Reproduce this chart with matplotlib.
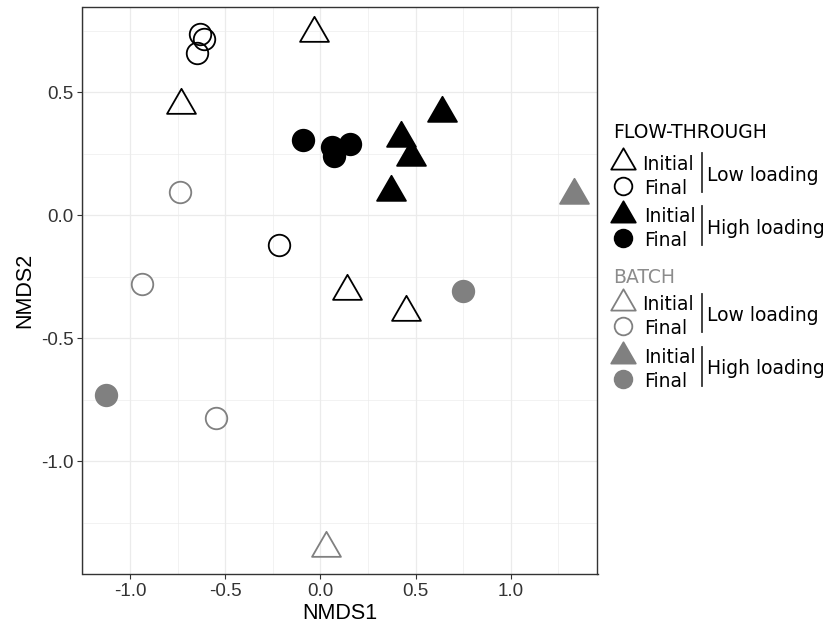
import numpy as np
import matplotlib
matplotlib.use("Agg")
import matplotlib.pyplot as plt
from matplotlib.path import Path
from matplotlib.lines import Line2D

# NMDS ordination scores per treatment group
ft_low_initial_x = [-0.036, -0.730, 0.142, 0.449]
ft_low_initial_y = [0.740, 0.449, -0.310, -0.395]
ft_low_final_x = [-0.632, -0.611, -0.651, -0.220]
ft_low_final_y = [0.736, 0.714, 0.660, -0.122]
ft_high_initial_x = [0.638, 0.422, 0.475, 0.370]
ft_high_initial_y = [0.415, 0.312, 0.235, 0.093]
ft_high_final_x = [-0.091, 0.063, 0.072, 0.154]
ft_high_final_y = [0.305, 0.275, 0.240, 0.289]
batch_low_initial_x = [0.032]
batch_low_initial_y = [-1.353]
batch_low_final_x = [-0.738, -0.938, -0.549]
batch_low_final_y = [0.095, -0.280, -0.824]
batch_high_initial_x = [1.333]
batch_high_initial_y = [0.080]
batch_high_final_x = [-1.127, 0.748]
batch_high_final_y = [-0.729, -0.309]

x_ticks = [-1.0, -0.5, 0.0, 0.5, 1.0]
y_ticks = [-1.0, -0.5, 0.0, 0.5]

BLACK = "#000000"
GREY = "#808080"
GREY_TEXT = "#8c8c8c"
W, H = 829, 629

# triangle centred on its centroid (like R's pch triangles)
TRI = Path([(0, 1), (-np.sqrt(3) / 2, -0.5), (np.sqrt(3) / 2, -0.5), (0, 0)],
           [Path.MOVETO, Path.LINETO, Path.LINETO, Path.CLOSEPOLY])

TRI_MS, CIRC_MS, EDGE_LW = 24, 15.5, 1.3

fig = plt.figure(figsize=(W / 100, H / 100), dpi=100)
ax = fig.add_axes([82.5 / W, 1 - 574 / H, (597.5 - 82.5) / W, (574 - 7.2) / H])

groups = [
    (ft_low_initial_x, ft_low_initial_y, TRI, TRI_MS, BLACK, False),
    (ft_low_final_x, ft_low_final_y, "o", CIRC_MS, BLACK, False),
    (ft_high_initial_x, ft_high_initial_y, TRI, TRI_MS, BLACK, True),
    (ft_high_final_x, ft_high_final_y, "o", CIRC_MS, BLACK, True),
    (batch_low_initial_x, batch_low_initial_y, TRI, TRI_MS, GREY, False),
    (batch_low_final_x, batch_low_final_y, "o", CIRC_MS, GREY, False),
    (batch_high_initial_x, batch_high_initial_y, TRI, TRI_MS, GREY, True),
    (batch_high_final_x, batch_high_final_y, "o", CIRC_MS, GREY, True),
]
for gx, gy, mk, ms, col, filled in groups:
    ax.plot(gx, gy, linestyle="none", marker=mk, markersize=ms,
            markeredgecolor=col, markeredgewidth=EDGE_LW,
            markerfacecolor=col if filled else "none", zorder=3)

# 5 % expansion around the data range
all_x = np.concatenate([np.asarray(g[0]) for g in groups])
all_y = np.concatenate([np.asarray(g[1]) for g in groups])
xr = all_x.max() - all_x.min()
yr = all_y.max() - all_y.min()
ax.set_xlim(all_x.min() - 0.05 * xr, all_x.max() + 0.05 * xr)
ax.set_ylim(all_y.min() - 0.05 * yr, all_y.max() + 0.05 * yr)

ax.set_xticks(x_ticks)
ax.set_yticks(y_ticks)
ax.set_xticks(np.arange(-1.25, 1.5, 0.5), minor=True)
ax.set_yticks(np.arange(-1.25, 1.0, 0.5), minor=True)
ax.set_xticklabels([f"{v:.1f}" for v in x_ticks])
ax.set_yticklabels([f"{v:.1f}" for v in y_ticks])
ax.grid(True, which="major", color="#ebebeb", linewidth=0.9, zorder=0)
ax.grid(True, which="minor", color="#ebebeb", linewidth=0.45, zorder=0)
ax.set_axisbelow(True)
ax.tick_params(which="major", length=3.5, width=0.8, color="#333333",
               labelsize=13.5, labelcolor="#333333", pad=3)
ax.tick_params(which="minor", length=0)
for lab in ax.get_xticklabels() + ax.get_yticklabels():
    lab.set_family("Liberation Sans")
for sp in ax.spines.values():
    sp.set_color("#333333")
    sp.set_linewidth(1.0)
ax.set_xlabel("NMDS1", family="Liberation Sans", fontsize=15.5, labelpad=2)
ax.set_ylabel("NMDS2", family="Liberation Sans", fontsize=15.5, labelpad=4)


# ---- manual legend ----
def fx(px):
    return px / W


def fy(py):
    return 1 - py / H


LEG_FONT = dict(family="DejaVu Sans", fontsize=13.5)


def legend_marker(px, py, mk, ms, col, filled):
    fig.add_artist(Line2D([fx(px)], [fy(py)], transform=fig.transFigure,
                          linestyle="none", marker=mk, markersize=ms,
                          markeredgecolor=col, markeredgewidth=EDGE_LW,
                          markerfacecolor=col if filled else "none"))


def legend_block(y0, col, filled, init_x, label):
    # y0: vertical centre of the "Initial" row
    legend_marker(623, y0, TRI, TRI_MS * 0.85, col, filled)
    legend_marker(623, y0 + 23.5, "o", CIRC_MS * 0.82, col, filled)
    fig.text(fx(init_x), fy(y0), "Initial", ha="left", va="center_baseline", **LEG_FONT)
    fig.text(fx(644), fy(y0 + 24), "Final", ha="left", va="center_baseline", **LEG_FONT)
    fig.add_artist(Line2D([fx(702.3), fx(702.3)], [fy(y0 - 9), fy(y0 + 30)],
                          transform=fig.transFigure, color="#333333", linewidth=1.3))
    fig.text(fx(706.7), fy(y0 + 11.5), label, ha="left", va="center_baseline", **LEG_FONT)


fig.text(fx(613), fy(131), "FLOW-THROUGH", ha="left", va="center_baseline",
         color=BLACK, **LEG_FONT)
legend_block(162, BLACK, False, 641.7, "Low loading")
legend_block(214.5, BLACK, True, 644, "High loading")

fig.text(fx(613), fy(275.7), "BATCH", ha="left", va="center_baseline",
         color=GREY_TEXT, **LEG_FONT)
legend_block(302.5, GREY, False, 641.7, "Low loading")
legend_block(355.5, GREY, True, 644, "High loading")

fig.savefig("out.png", dpi=100)
